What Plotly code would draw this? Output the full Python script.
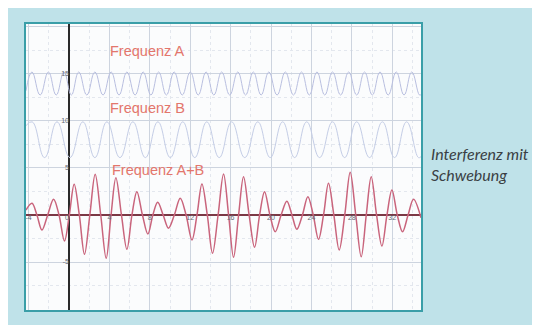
import plotly.graph_objects as go

# ---- data (extrema and axis crossings of each wave) ----
sum_x = [-4.26, -3.67, -3.18, -2.68, -2.11, -1.53, -0.99, -0.45, 0.03, 0.51, 1.02, 1.53, 2.06,
         2.59, 3.14, 3.68, 4.16, 4.64, 5.19, 5.73, 6.23, 6.72, 7.27, 7.81, 8.30, 8.78, 9.32,
         9.85, 10.43, 11.01, 11.59, 12.17, 12.67, 13.16, 13.69, 14.21, 14.76, 15.30, 15.80,
         16.29, 16.79, 17.28, 17.83, 18.37, 18.87, 19.36, 19.89, 20.42, 21.00, 21.57, 22.07,
         22.56, 23.11, 23.65, 24.18, 24.70, 25.20, 25.69, 26.22, 26.75, 27.30, 27.84, 28.39,
         28.93, 29.43, 29.92, 30.45, 30.98, 31.48, 31.97, 32.50, 33.02, 33.57, 34.11, 34.85]
sum_y = [0.53, 1.24, 0, -1.60, 0, 1.67, 0, -2.77, 0, 3.27, 0, -4.18, 0,
         4.33, 0, -4.61, 0, 3.97, 0, -3.65, 0, 2.48, 0, -2.02, 0, 1.36, 0,
         -1.41, 0, 1.78, 0, -2.66, 0, 3.30, 0, -4.07, 0, 4.36, 0,
         -4.50, 0, 4.07, 0, -3.44, 0, 2.48, 0, -1.78, 0, 1.47, 0,
         -1.52, 0, 1.95, 0, -2.59, 0, 3.37, 0, -3.72, 0, 4.54, 0,
         -4.44, 0, 4.07, 0, -3.30, 0, 2.66, 0, -1.78, 0, 1.67, -0.3]

a_x = [-4.26, -3.67, -2.86, -2.04, -1.27, -0.50, 0.23, 0.96, 1.76, 2.56, 3.37, 4.17, 4.95,
       5.73, 6.54, 7.34, 8.11, 8.87, 9.64, 10.41, 11.21, 12.01, 12.79, 13.57, 14.34, 15.11,
       15.91, 16.71, 17.48, 18.25, 19.02, 19.78, 20.60, 21.42, 22.22, 23.02, 23.79, 24.55,
       25.32, 26.09, 26.89, 27.69, 28.48, 29.26, 30.03, 30.79, 31.60, 32.40, 33.17, 33.93,
       34.70, 34.85]
a_y = [13.2, 15.2, 12.75, 15.2, 12.75, 15.2, 12.75, 15.2, 12.75, 15.2, 12.75, 15.2, 12.75,
       15.2, 12.75, 15.2, 12.75, 15.2, 12.75, 15.2, 12.75, 15.2, 12.75, 15.2, 12.75, 15.2,
       12.75, 15.2, 12.75, 15.2, 12.75, 15.2, 12.75, 15.2, 12.75, 15.2, 12.75, 15.2,
       12.75, 15.2, 12.75, 15.2, 12.75, 15.2, 12.75, 15.2, 12.75, 15.2, 12.75, 15.2,
       12.75, 12.8]

b_x = [-4.26, -3.65, -2.42, -1.19, 0.09, 1.37, 2.56, 3.75, 5.04, 6.32, 7.56, 8.80, 10.03,
       11.26, 12.45, 13.64, 14.87, 16.10, 17.40, 18.69, 19.92, 21.15, 22.34, 23.53, 24.81,
       26.09, 27.29, 28.48, 29.76, 31.03, 32.23, 33.42, 34.60, 34.85]
b_y = [9.5, 9.9, 6.1, 9.9, 6.1, 9.9, 6.1, 9.9, 6.1, 9.9, 6.1, 9.9, 6.1,
       9.9, 6.1, 9.9, 6.1, 9.9, 6.1, 9.9, 6.1, 9.9, 6.1, 9.9, 6.1,
       9.9, 6.1, 9.9, 6.1, 9.9, 6.1, 9.9, 6.1, 6.2]

x_tick_vals = [-4, 0, 4, 8, 12, 16, 20, 24, 28, 32]
x_tick_text = ["-4", "0", "4", "8", "12", "16", "20", "24", "28", "32"]
y_tick_vals = [15, 10, 5, -5]
y_tick_text = ["15", "10", "5", "-5"]

label_a = "Frequenz A"
label_b = "Frequenz B"
label_ab = "Frequenz A+B"
caption = "<i>Interferenz mit<br>Schwebung</i>"

fig = go.Figure()

fig.add_trace(go.Scatter(x=a_x, y=a_y, mode="lines", line=dict(color="#b9bfe0", width=1, shape="spline", smoothing=1.3),
                         hoverinfo="skip", showlegend=False))
fig.add_trace(go.Scatter(x=b_x, y=b_y, mode="lines", line=dict(color="#c4cde6", width=1, shape="spline", smoothing=1.3),
                         hoverinfo="skip", showlegend=False))
fig.add_trace(go.Scatter(x=sum_x, y=sum_y, mode="lines", line=dict(color="#c9647c", width=1.5, shape="spline", smoothing=1.0),
                         hoverinfo="skip", showlegend=False))

tick_font = dict(size=7, color="#656b76", family="Liberation Sans")
fig.add_trace(go.Scatter(x=[v for v in x_tick_vals if v != 0], y=[0] * (len(x_tick_vals) - 1),
                         mode="text", text=[t for v, t in zip(x_tick_vals, x_tick_text) if v != 0],
                         textposition="bottom center", textfont=tick_font,
                         hoverinfo="skip", showlegend=False))
fig.add_trace(go.Scatter(x=[0], y=[0], mode="text", text=["0"], textposition="bottom left",
                         textfont=tick_font, hoverinfo="skip", showlegend=False))
fig.add_trace(go.Scatter(x=[0] * len(y_tick_vals), y=y_tick_vals, mode="text", text=y_tick_text,
                         textposition="middle left", textfont=tick_font,
                         hoverinfo="skip", showlegend=False))

red_font = dict(family="Liberation Sans", size=14.5, color="#e3766c")
fig.add_annotation(x=3.9, y=17.4, text=label_a, showarrow=False, xanchor="left", yanchor="middle", font=red_font)
fig.add_annotation(x=3.9, y=11.35, text=label_b, showarrow=False, xanchor="left", yanchor="middle", font=red_font)
fig.add_annotation(x=4.05, y=4.8, text=label_ab, showarrow=False, xanchor="left", yanchor="middle", font=red_font)

fig.add_annotation(xref="paper", yref="paper", x=1.02, y=0.51, text=caption, showarrow=False,
                   xanchor="left", yanchor="middle", align="left",
                   font=dict(family="Lato", size=16, color="#3a3f44"))

fig.update_xaxes(range=[-4.26, 34.85], showticklabels=False, ticks="",
                 showgrid=True, gridcolor="#cdd4df", gridwidth=1, dtick=4, tick0=0,
                 minor=dict(showgrid=True, dtick=2, gridcolor="#e3e7ee", griddash="dot"),
                 zeroline=True, zerolinecolor="#2a2a2a", zerolinewidth=2,
                 showline=True, linecolor="#3a9ea8", linewidth=2, mirror=True)
fig.update_yaxes(range=[-10.1, 20.3], showticklabels=False, ticks="",
                 showgrid=True, gridcolor="#cdd4df", gridwidth=1, dtick=5, tick0=0,
                 minor=dict(showgrid=True, dtick=2.5, gridcolor="#e3e7ee", griddash="dot"),
                 zeroline=True, zerolinecolor="#7b3845", zerolinewidth=2,
                 showline=True, linecolor="#3a9ea8", linewidth=2, mirror=True)

fig.update_layout(width=540, height=325, margin=dict(l=18, r=127, t=16, b=23),
                  paper_bgcolor="#bfe2e9", plot_bgcolor="#fbfcfd", showlegend=False)

fig.write_html("out.html")
